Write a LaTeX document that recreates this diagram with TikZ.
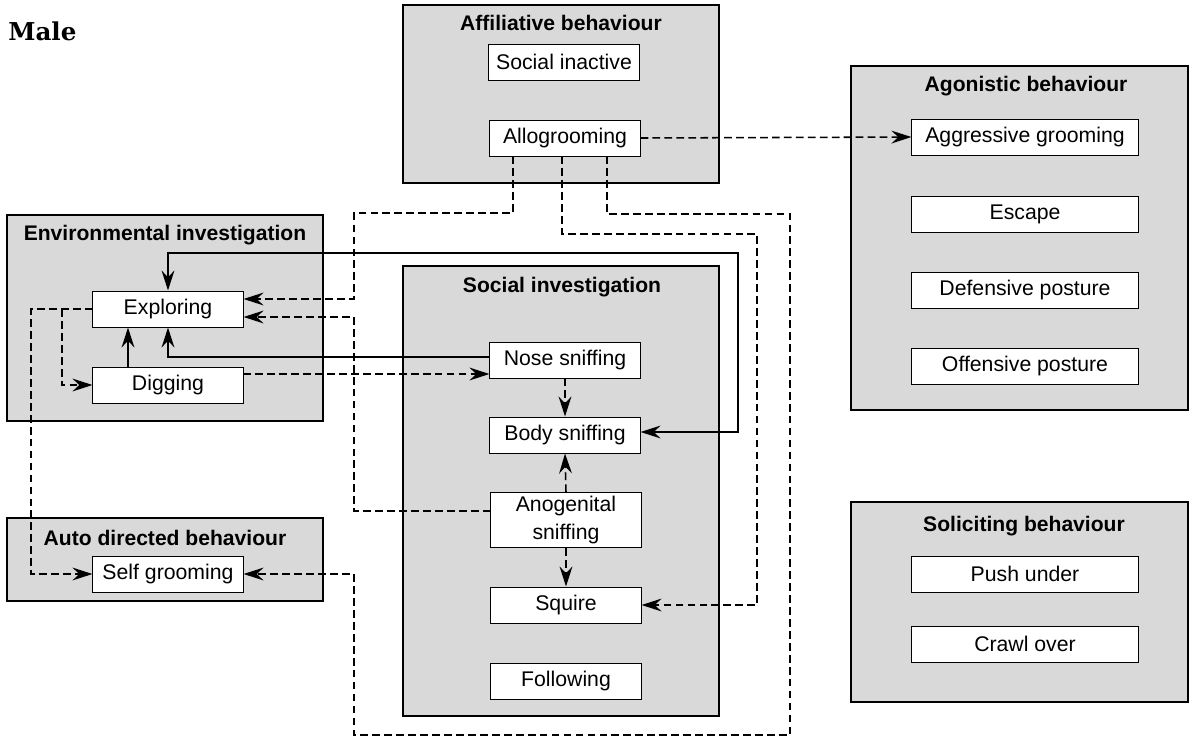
\documentclass[tikz,border=0pt]{standalone}
\usepackage{fontspec}
\setsansfont{Liberation Sans}
\newfontfamily\malefont{DejaVu Serif}
\usetikzlibrary{arrows.meta}

\tikzset{
  grp/.style={draw, fill=black!15, line width=1.4pt, inner sep=0pt},
  ttl/.style={font=\sffamily\bfseries\fontsize{15}{17}\selectfont},
  box/.style={draw, fill=white, line width=0.7pt, minimum width=3.75cm,
    minimum height=0.9cm, inner sep=1pt, align=center,
    font=\sffamily\fontsize{15.1}{19.5}\selectfont},
  wbox/.style={box, minimum width=5.65cm},
  tip/.style={-{Stealth[length=5mm,width=3.2mm,inset=1.7mm]}},
  link/.style={tip, line width=1.1pt},
  dlink/.style={link, dash pattern=on 5.5pt off 3pt}
}

\begin{document}
\begin{tikzpicture}[x=0.025cm, y=-0.025cm]
  \useasboundingbox (0,0) rectangle (1195,738);

  \node[anchor=base west, inner sep=0pt, font=\malefont\bfseries\fontsize{17.5}{20}\selectfont] (male) at (8,40) {Male};

  % group boxes
  \node[grp, minimum width=7.9cm, minimum height=4.45cm] (affil) at (561,94) {};
  \node[grp, minimum width=8.425cm, minimum height=8.6cm] (agon) at (1019.5,238) {};
  \node[grp, minimum width=7.9cm, minimum height=5.15cm] (envi) at (165,318) {};
  \node[grp, minimum width=7.9cm, minimum height=11.25cm] (social) at (561,491) {};
  \node[grp, minimum width=7.9cm, minimum height=2.075cm] (auto) at (165,559.5) {};
  \node[grp, minimum width=8.425cm, minimum height=5cm] (solic) at (1019.5,602) {};

  \node[ttl] (affilT) at (561,23) {Affiliative behaviour};
  \node[ttl] (agonT) at (1026,86) {Agonistic behaviour};
  \node[ttl] (enviT) at (165,235) {Environmental investigation};
  \node[ttl] (socialT) at (562,287) {Social investigation};
  \node[ttl] (autoT) at (165,538) {Auto directed behaviour};
  \node[ttl] (solicT) at (1024,526) {Soliciting behaviour};

  % behaviours
  \node[box] (inact) at (564,62) {Social inactive};
  \node[box] (allo) at (565,138) {Allogrooming};

  \node[wbox] (aggr) at (1025,137) {Aggressive grooming};
  \node[wbox] (esc) at (1025,214) {Escape};
  \node[wbox] (defp) at (1025,290) {Defensive posture};
  \node[wbox] (offp) at (1025,366) {Offensive posture};

  \node[box] (expl) at (168,309) {Exploring};
  \node[box] (dig) at (168,385) {Digging};

  \node[box] (nose) at (565,360) {Nose sniffing};
  \node[box] (body) at (565,435) {Body sniffing};
  \node[box, minimum height=1.375cm] (ano) at (566,520) {Anogenital\\sniffing};
  \node[box] (squire) at (566,605) {Squire};
  \node[box] (follow) at (566,681) {Following};

  \node[box] (self) at (168,574) {Self grooming};

  \node[wbox] (push) at (1025,574) {Push under};
  \node[wbox] (crawl) at (1025,644) {Crawl over};

  % connectors
  \draw[dlink] (allo.east) -- (aggr.west);
  \draw[dlink] (513,0 |- allo.south) -- (513,213) -- (354,213) -- (354,299) -- (expl.east |- 0,299);
  \draw[dlink] (562,0 |- allo.south) -- (562,234) -- (757,234) |- (squire.east);
  \draw[dlink] (607,0 |- allo.south) -- (607,214) -- (790,214) -- (790,735) -- (354,735) |- (self.east);
  \draw[dlink] (ano.west |- 0,511) -- (354,511) -- (354,317) -- (expl.east |- 0,317);
  \draw[dlink] (dig.east |- 0,374) -- (nose.west |- 0,374);
  \draw[link] (nose.west |- 0,357) -| (expl.south);
  \draw[link, {Stealth[length=5mm,width=3.2mm,inset=1.7mm]}-{Stealth[length=5mm,width=3.2mm,inset=1.7mm]}]
    (body.east |- 0,432) -- (738,432) |- (168,253) -- (expl.north);
  \draw[link] (dig.north -| 128,0) -- (expl.south -| 128,0);
  \draw[dlink] (expl.west) -- (31,309) |- (self.west);
  \draw[dlink] (62,309) |- (dig.west);
  \draw[dlink] (nose.south) -- (body.north);
  \draw[dlink] (ano.north) -- (body.south);
  \draw[dlink] (ano.south) -- (squire.north);
\end{tikzpicture}
\end{document}
